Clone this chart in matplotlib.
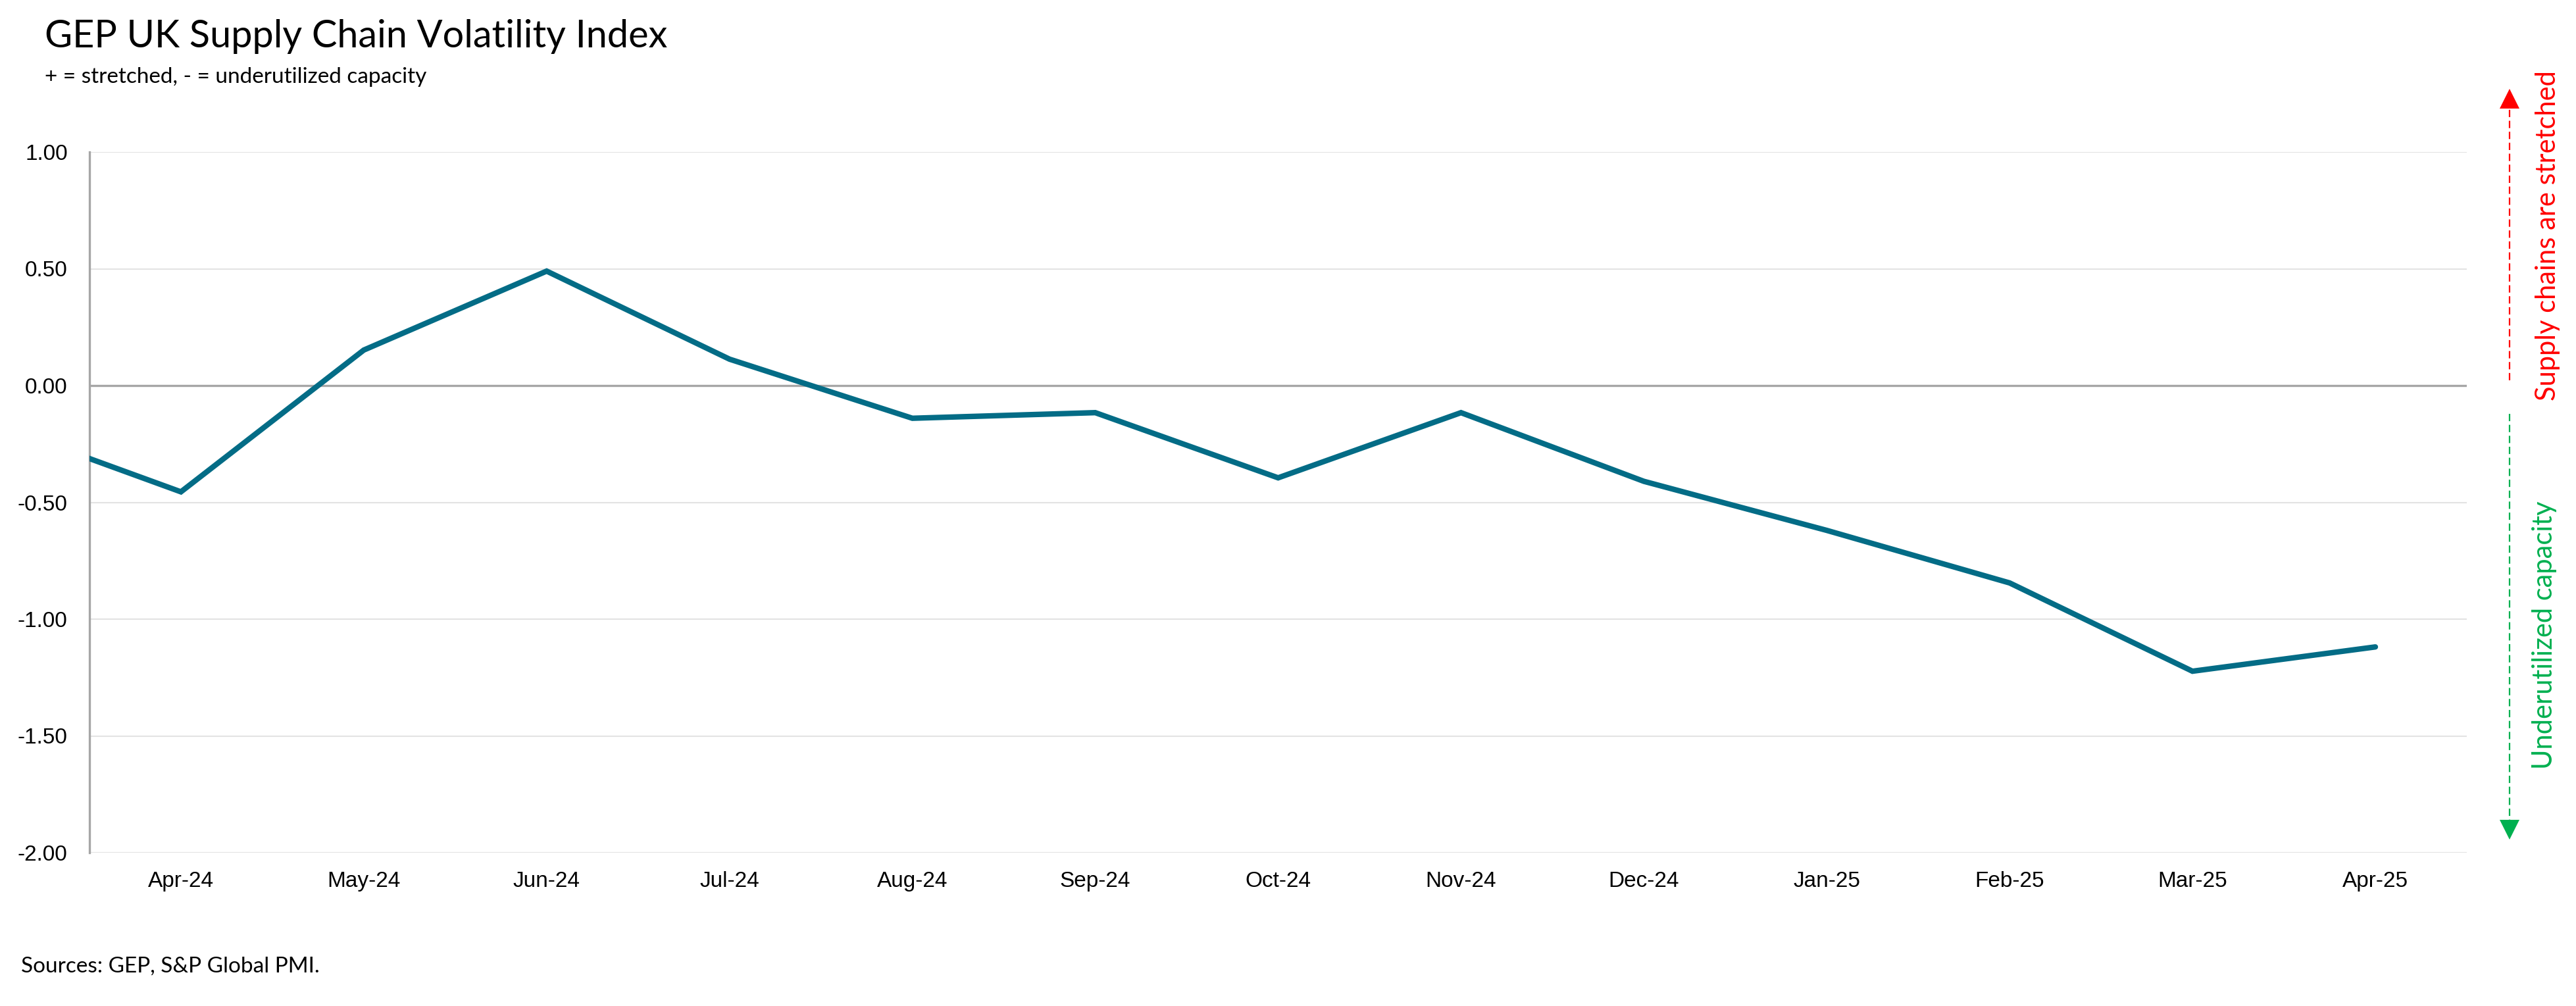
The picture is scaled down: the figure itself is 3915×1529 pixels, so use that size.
import matplotlib
matplotlib.use("Agg")
import matplotlib.pyplot as plt
from matplotlib.lines import Line2D

# ---- data ----
months = ["Mar-24", "Apr-24", "May-24", "Jun-24", "Jul-24", "Aug-24", "Sep-24",
          "Oct-24", "Nov-24", "Dec-24", "Jan-25", "Feb-25", "Mar-25", "Apr-25"]
values = [-0.17, -0.455, 0.152, 0.49, 0.113, -0.14, -0.116,
          -0.395, -0.116, -0.41, -0.62, -0.845, -1.223, -1.119]
shown_labels = months[1:]
y_ticks = [1.0, 0.5, 0.0, -0.5, -1.0, -1.5, -2.0]

title = "GEP UK Supply Chain Volatility Index"
subtitle = "+ = stretched, - = underutilized capacity"
source = "Sources: GEP, S&P Global PMI."
up_label = "Supply chains are stretched"
down_label = "Underutilized capacity"

LINE_COLOR = "#036c86"
TXT_FONT = ["Lato", "DejaVu Sans"]
TICK_FONT = ["Liberation Sans", "DejaVu Sans"]

W, H = 3916, 1529
fig = plt.figure(figsize=(W / 100, H / 100), dpi=100)
fig.patch.set_facecolor("white")

ax = fig.add_axes([136 / W, 1 - 1296 / H, (3749 - 136) / W, (1296 - 231) / H])

xpos = list(range(-1, len(months) - 1))
ax.plot(xpos, values, color=LINE_COLOR, lw=6, solid_joinstyle="miter",
        solid_capstyle="round", zorder=5, clip_on=True)

ax.set_xlim(-0.5, len(shown_labels) - 0.5)
ax.set_ylim(-2.0, 1.0)
ax.set_yticks(y_ticks)
ax.set_yticklabels([f"{v:.2f}" for v in y_ticks], fontfamily=TICK_FONT, fontsize=24)
ax.set_xticks(range(len(shown_labels)))
ax.set_xticklabels(shown_labels, fontfamily=TICK_FONT, fontsize=24)
ax.tick_params(axis="both", length=0)
ax.tick_params(axis="y", pad=24)
ax.tick_params(axis="x", pad=20)

for v in y_ticks:
    if v == 0:
        ax.axhline(v, color="#a6a6a6", lw=2.4, zorder=3)
    else:
        ax.axhline(v, color="#e3e3e3", lw=1.5, zorder=1)

for s in ["top", "right", "bottom"]:
    ax.spines[s].set_visible(False)
ax.spines["left"].set_color("#a6a6a6")
ax.spines["left"].set_linewidth(2.4)

# texts
fig.text(68 / W, 1 - 55 / H, title, fontfamily=TXT_FONT, fontsize=41.5,
         ha="left", va="center", color="black")
fig.text(68 / W, 1 - 117 / H, subtitle, fontfamily=TXT_FONT, fontsize=24,
         ha="left", va="center", color="black")
fig.text(32 / W, 1 - 1469 / H, source, fontfamily=TXT_FONT, fontsize=24,
         ha="left", va="center", color="black")

fig.text(3872 / W, 1 - 358 / H, up_label, fontfamily=TXT_FONT, fontsize=30,
         rotation=90, ha="center", va="center", color="#ff0000")
fig.text(3867 / W, 1 - 965 / H, down_label, fontfamily=TXT_FONT, fontsize=30,
         rotation=90, ha="center", va="center", color="#00b050")

# arrows
ax_x = 3814 / W
fig.add_artist(Line2D([ax_x, ax_x], [1 - 578 / H, 1 - 160 / H], transform=fig.transFigure,
                      color="#ff0000", lw=1.6, linestyle=(0, (5, 2.5))))
fig.add_artist(Line2D([ax_x], [1 - 150 / H], transform=fig.transFigure, marker="^",
                      markersize=21, color="#ff0000", markeredgewidth=0))
fig.add_artist(Line2D([ax_x, ax_x], [1 - 629 / H, 1 - 1252 / H], transform=fig.transFigure,
                      color="#00b050", lw=1.6, linestyle=(0, (5, 2.5))))
fig.add_artist(Line2D([ax_x], [1 - 1261 / H], transform=fig.transFigure, marker="v",
                      markersize=21, color="#00b050", markeredgewidth=0))

fig.savefig("out.png", dpi=100, facecolor="white")
